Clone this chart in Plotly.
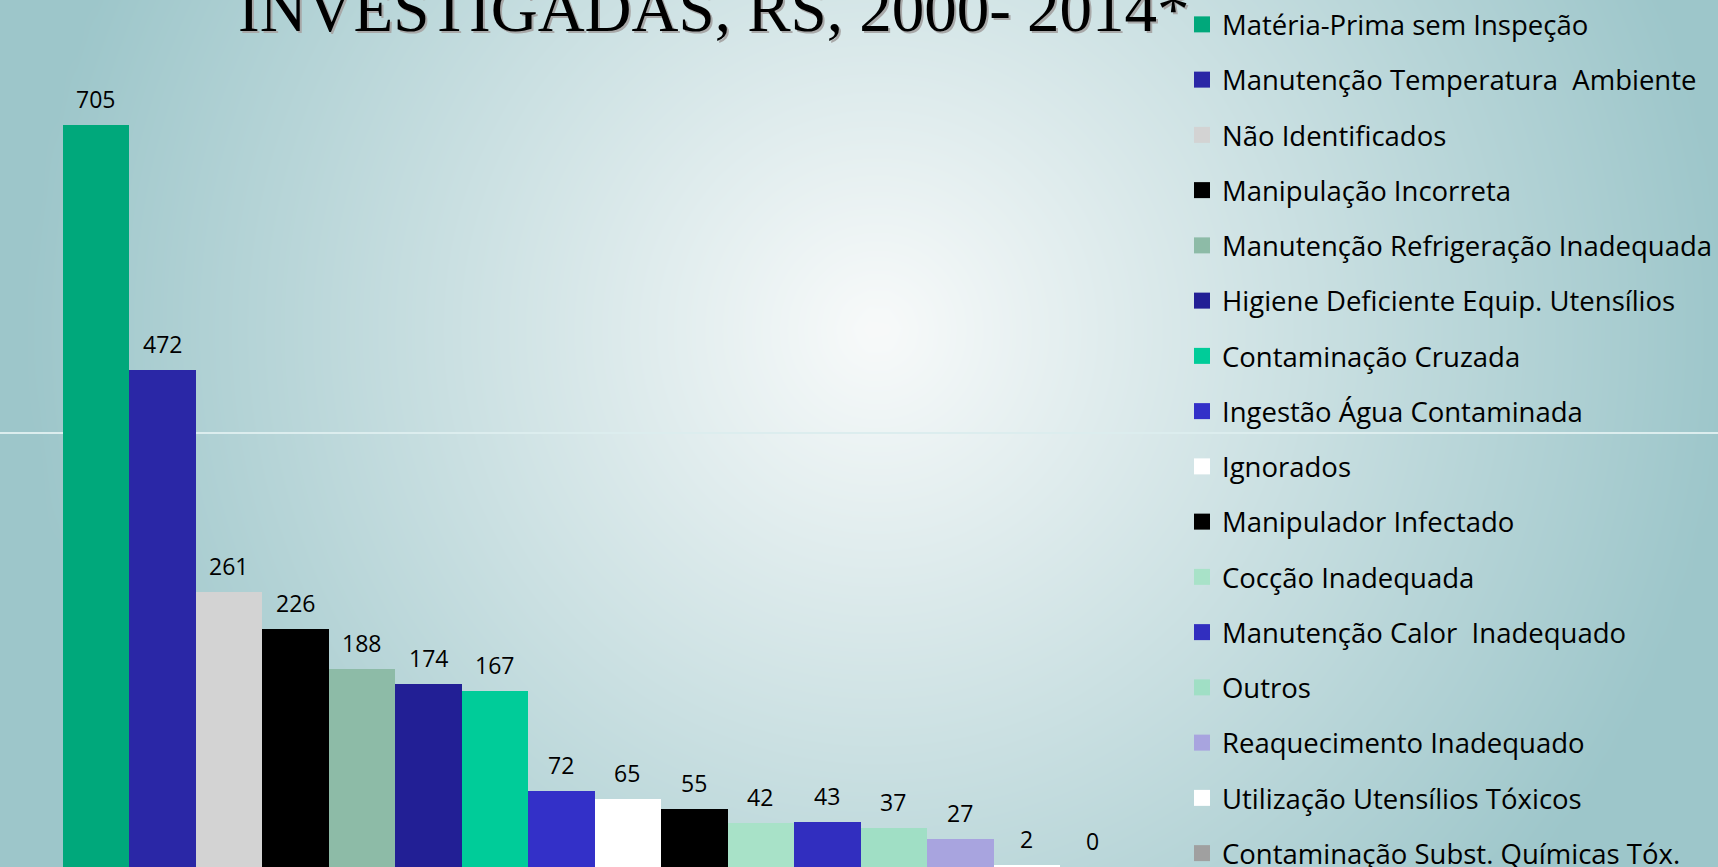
import numpy as np
import plotly.graph_objects as go

# causes of outbreaks, count, colour
causes = [
    "Matéria-Prima sem Inspeção",
    "Manutenção Temperatura  Ambiente",
    "Não Identificados",
    "Manipulação Incorreta",
    "Manutenção Refrigeração Inadequada",
    "Higiene Deficiente Equip. Utensílios",
    "Contaminação Cruzada",
    "Ingestão Água Contaminada",
    "Ignorados",
    "Manipulador Infectado",
    "Cocção Inadequada",
    "Manutenção Calor  Inadequado",
    "Outros",
    "Reaquecimento Inadequado",
    "Utilização Utensílios Tóxicos",
    "Contaminação Subst. Químicas Tóx.",
]
counts = [705, 472, 261, 226, 188, 174, 167, 72, 65, 55, 42, 43, 37, 27, 2, 0]
colors = ["#00A87B", "#2A27A6", "#D3D3D3", "#000000", "#8DBBA7", "#221F95",
          "#00CC99", "#3330C8", "#FFFFFF", "#000000", "#A8E2C8", "#312EBF",
          "#A0DFC5", "#A8A4DF", "#FFFFFF", "#A0A0A0"]

title_text = "INVESTIGADAS, RS, 2000- 2014*"

W, H = 1718, 867

fig = go.Figure()

# slide background: radial gradient drawn as a smooth heatmap on a full-page axis
gx = np.linspace(0, W, 90)
gy = np.linspace(0, H, 46)
XX, YY = np.meshgrid(gx, gy)
grad = np.clip(np.hypot(XX - 877, YY - 330) / 850, 0, 1)
fig.add_trace(go.Heatmap(x=gx, y=gy, z=grad, zsmooth="best", showscale=False,
                         colorscale=[[0, "#F8FAFA"], [1, "#9DC6CA"]],
                         zmin=0, zmax=1, hoverinfo="skip", xaxis="x", yaxis="y"))
# thin divider line of the slide
fig.add_trace(go.Scatter(x=[0, W], y=[433, 433], mode="lines", showlegend=False,
                         line=dict(color="#DCEDEE", width=2), hoverinfo="skip",
                         xaxis="x", yaxis="y"))

# the bars
fig.add_trace(go.Bar(x=causes, y=counts, marker=dict(color=colors, line=dict(width=0)),
                     showlegend=False, xaxis="x2", yaxis="y2"))

# legend entries (square swatches)
for i, (name, col) in enumerate(zip(causes, colors)):
    fig.add_trace(go.Scatter(x=[None], y=[None], mode="markers", name=name,
                             legendgroup=f"g{i}",
                             marker=dict(symbol="square", size=16, color=col,
                                         line=dict(width=0)),
                             xaxis="x2", yaxis="y2"))

# value labels above bars
for name, v in zip(causes, counts):
    fig.add_annotation(x=name, y=v, xref="x2", yref="y2", text=str(v),
                       showarrow=False, yanchor="middle", yshift=26,
                       font=dict(family="Open Sans", size=23, color="black"))

# title (partly cut off at the top, with shadow)
fig.add_annotation(x=714 / W + 2 / W, y=0.946 - 2 / H, xref="paper", yref="paper",
                   text=title_text, showarrow=False, xanchor="center", yanchor="bottom",
                   font=dict(family="Liberation Serif", size=65, color="#A8A8A8"))
fig.add_annotation(x=714 / W, y=0.946, xref="paper", yref="paper",
                   text=title_text, showarrow=False, xanchor="center", yanchor="bottom",
                   font=dict(family="Liberation Serif", size=65, color="black"))

fig.update_layout(
    width=W, height=H,
    margin=dict(l=0, r=0, t=0, b=0),
    paper_bgcolor="#9DC6CA",
    plot_bgcolor="rgba(0,0,0,0)",
    bargap=0,
    xaxis=dict(domain=[0, 1], range=[0, W], visible=False, fixedrange=True),
    yaxis=dict(domain=[0, 1], range=[H, 0], visible=False, fixedrange=True),
    xaxis2=dict(domain=[62.5 / W, 1126 / W], anchor="y2", visible=False,
                range=[-0.5, 15.5]),
    yaxis2=dict(domain=[0, 1], anchor="x2", range=[0, 824], visible=False),
    legend=dict(x=0.688, y=0.999, xanchor="left", yanchor="top",
                bgcolor="rgba(0,0,0,0)", tracegroupgap=16.5, maxheight=1000,
                font=dict(family="Open Sans", size=27.5, color="black")),
    showlegend=True,
)

fig.write_html("out.html", config={"displayModeBar": False},
               post_script="document.body.style.margin='0';")
